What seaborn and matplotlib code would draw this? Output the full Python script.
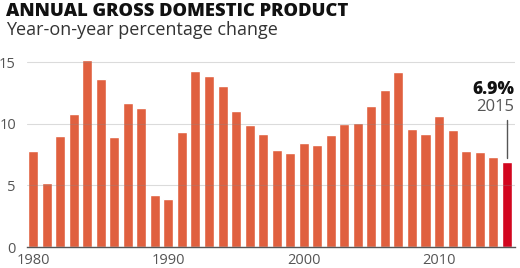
import matplotlib
matplotlib.use("Agg")
import matplotlib.pyplot as plt
import pandas as pd
import seaborn as sns

# China annual GDP growth
years = list(range(1980, 2016))
growth = [7.8, 5.2, 9.0, 10.8, 15.2, 13.6, 8.9, 11.7, 11.3, 4.2,
          3.9, 9.3, 14.3, 13.9, 13.1, 11.0, 9.9, 9.2, 7.9, 7.6,
          8.4, 8.3, 9.1, 10.0, 10.1, 11.4, 12.7, 14.2, 9.6, 9.2,
          10.6, 9.5, 7.8, 7.7, 7.3, 6.9]
x_tick_years = [1980, 1990, 2000, 2010]
y_ticks = [0, 5, 10, 15]

df = pd.DataFrame({"year": years, "growth": growth})
df["latest"] = df["year"] == years[-1]

sns.set_style("white")
plt.rcParams["font.family"] = ["Open Sans", "DejaVu Sans"]

fig = plt.figure(figsize=(5.2, 2.68), dpi=100)
ax = fig.add_axes([0.052, 0.078, 0.938, 0.718])

sns.barplot(data=df, x="year", y="growth", hue="latest",
            palette={False: "#e0603f", True: "#d2061f"},
            width=0.74, saturation=1, legend=False, ax=ax)

ax.set_xlim(-0.45, 35.6)
ax.set_ylim(0, 15.6)

# grid lines drawn faintly over bars
for v in y_ticks[1:]:
    ax.axhline(v, color="#888888", lw=0.8, alpha=0.3, zorder=5)

pos = [years.index(y) for y in x_tick_years]
ax.set_xticks(pos)
ax.set_xticklabels([str(y) for y in x_tick_years])
ax.set_yticks(y_ticks)
ax.set_yticklabels([str(v) for v in y_ticks])
ax.tick_params(axis="x", length=6, width=1, color="#333333", pad=1,
               direction="inout", labelsize=10.5, labelcolor="#555555")
ax.tick_params(axis="y", length=0, pad=8, labelsize=10.5, labelcolor="#555555")
ax.set_xlabel("")
ax.set_ylabel("")

for s in ["top", "right", "left"]:
    ax.spines[s].set_visible(False)
ax.spines["bottom"].set_color("#555555")
ax.spines["bottom"].set_linewidth(1)

# annotation for the latest year
last = len(years) - 1
ax.plot([last, last], [growth[-1] + 0.35, 10.3], color="#555555", lw=1, zorder=6)
ax.text(last + 0.55, 10.7, "2015", ha="right", va="bottom",
        fontsize=12, color="#555555")
ax.text(last + 0.55, 12.05, f"{growth[-1]}%", ha="right", va="bottom",
        fontsize=12.5, fontweight="heavy", color="#111111")

fig.text(0.012, 0.99, "ANNUAL GROSS DOMESTIC PRODUCT", ha="left", va="top",
         fontsize=13.2, fontweight="heavy", color="#111111")
fig.text(0.012, 0.92, "Year-on-year percentage change", ha="left", va="top",
         fontsize=13, color="#333333")

fig.savefig("out.png", dpi=100)
